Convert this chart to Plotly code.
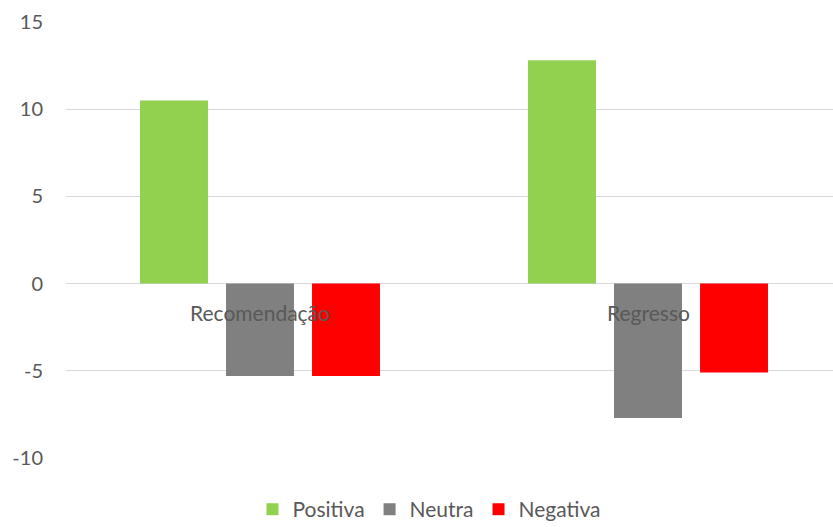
import plotly.graph_objects as go

categories = ["Recomendação", "Regresso"]
series_names = ["Positiva", "Neutra", "Negativa"]
positiva = [10.5, 12.8]
neutra = [-5.3, -7.7]
negativa = [-5.3, -5.1]
y_ticks = [-10, -5, 0, 5, 10, 15]

colors = ["#92D050", "#808080", "#FF0000"]
text_color = "#595959"
grid_color = "#D9D9D9"
font_family = "Lato, 'Open Sans', sans-serif"

x_pos = list(range(len(categories)))

fig = go.Figure()
for name, vals, col in zip(series_names, [positiva, neutra, negativa], colors):
    fig.add_trace(go.Bar(
        x=x_pos, y=vals, name=name,
        marker=dict(color=col, line=dict(width=0)),
    ))

# category names sit just under the zero line, as on an Excel category axis
for xi, cat in zip(x_pos, categories):
    fig.add_annotation(
        x=xi, y=0, xref="x", yref="y", text=cat, showarrow=False,
        yanchor="top", yshift=-14,
        font=dict(family=font_family, size=21, color=text_color),
    )

fig.update_layout(
    width=833, height=527,
    margin=dict(l=66, r=0, t=22, b=69, autoexpand=False),
    paper_bgcolor="white", plot_bgcolor="white",
    barmode="group", bargap=0.335, bargroupgap=0.21,
    font=dict(family=font_family, size=21, color=text_color),
    showlegend=True,
    legend=dict(
        orientation="h", x=0.5156, xanchor="center", xref="container",
        y=0.072, yanchor="top", yref="container",
        font=dict(family=font_family, size=21, color=text_color),
        itemwidth=30, traceorder="normal",
    ),
    xaxis=dict(
        range=[-0.5, 1.4768], showticklabels=False, showgrid=False,
        zeroline=False, showline=False, fixedrange=True,
    ),
    yaxis=dict(
        range=[-10, 15], tickvals=y_ticks, ticktext=[str(v) for v in y_ticks],
        showgrid=True, gridcolor=grid_color, gridwidth=1,
        zeroline=True, zerolinecolor=grid_color, zerolinewidth=1,
        showline=False, ticks="", ticklabelstandoff=22,
        tickfont=dict(family=font_family, size=20, color=text_color),
    ),
)

fig.write_html("out.html")
